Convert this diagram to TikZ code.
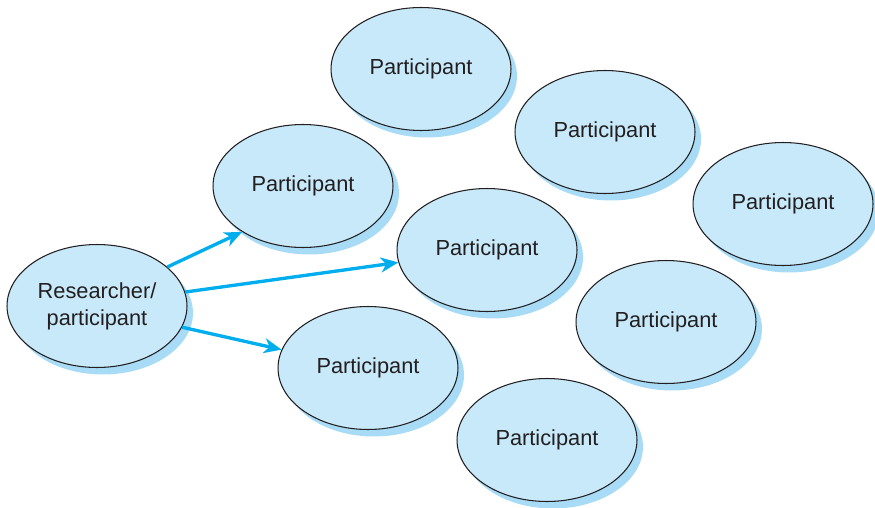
\documentclass[tikz,border=0pt]{standalone}
\usepackage{fontspec}
\setmainfont{Liberation Sans}
\usepackage{tikz}
\usetikzlibrary{shapes.geometric,arrows.meta,shadows}
\definecolor{bubbleBlue}{RGB}{199, 233, 249}
\definecolor{shadeBlue}{RGB}{168, 219, 245}
\definecolor{arrowCyan}{RGB}{0, 174, 239}
\definecolor{inkGray}{RGB}{35, 31, 32}

\begin{document}
\begin{tikzpicture}[
        x=0.02cm, y=-0.02cm,
        person/.style={ellipse, draw=inkGray, line width=0.6pt, fill=bubbleBlue, minimum width=3.6cm, minimum height=2.46cm, inner sep=0pt, align=center, text=inkGray, font=\fontsize{12.4}{15.5}\selectfont, drop shadow={shadow xshift=0.12cm, shadow yshift=-0.14cm, fill=shadeBlue, opacity=1}},
        link/.style={-{Stealth[length=10pt, width=8.5pt, inset=3pt]}, line width=1.9pt, arrowCyan},
    ]
        \useasboundingbox (0,0) rectangle (875,507);

        % Researcher
        \node[person] (res) at (97,306) {Researcher/\\participant};

        % Participants
        \node[person] (p1) at (421,69) {Participant};
        \node[person] (p2) at (605,132) {Participant};
        \node[person] (p3) at (783,204) {Participant};
        \node[person] (p4) at (303,186) {Participant};
        \node[person] (p5) at (487,250) {Participant};
        \node[person] (p6) at (666,322) {Participant};
        \node[person] (p7) at (368,368) {Participant};
        \node[person] (p8) at (547,440) {Participant};

        % Arrows
        \draw[link] (res.29) -- (p4.217);
        \draw[link] (res.9) -- (p5.188);
        \draw[link] (res.-14) -- (p7.168);

    \end{tikzpicture}
\end{document}
